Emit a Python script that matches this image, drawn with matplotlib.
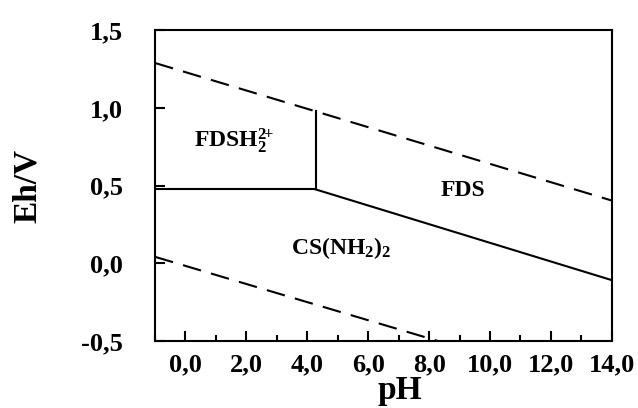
import matplotlib
matplotlib.use('Agg')
import matplotlib.pyplot as plt
from matplotlib.ticker import MultipleLocator, FuncFormatter

plt.rcParams['font.family'] = ['Liberation Serif', 'DejaVu Serif']
plt.rcParams['font.weight'] = 'bold'
plt.rcParams['mathtext.fontset'] = 'custom'
plt.rcParams['mathtext.rm'] = 'Liberation Serif:bold'
plt.rcParams['mathtext.it'] = 'Liberation Serif:bold'
plt.rcParams['mathtext.bf'] = 'Liberation Serif:bold'

# water stability lines (dashed)
upper_ph = [-1.0, 14.0]
upper_eh = [1.289, 0.404]
lower_ph = [-1.0, 8.3]
lower_eh = [0.042, -0.5]

# species boundaries (solid)
horiz_ph = [-1.0, 4.27]
horiz_eh = [0.476, 0.476]
vert_ph = [4.27, 4.27]
vert_eh = [0.476, 0.978]
slope_ph = [4.27, 14.0]
slope_eh = [0.476, -0.108]

# region labels
labels = [r'FDSH$_2^{2\!\!+}$', 'FDS', r'CS(NH$_2$)$_2$']
label_ph = [1.6, 9.1, 5.1]
label_eh = [0.79, 0.47, 0.10]

fig = plt.figure(figsize=(6.38, 4.08), dpi=100)
ax = fig.add_axes([0.243, 0.164, 0.716, 0.762])

ax.plot(upper_ph, upper_eh, 'k', lw=1.5, dashes=(9, 5))
ax.plot(lower_ph, lower_eh, 'k', lw=1.5, dashes=(9, 5))
ax.plot(horiz_ph, horiz_eh, 'k', lw=1.5)
ax.plot(vert_ph, vert_eh, 'k', lw=1.5)
ax.plot(slope_ph, slope_eh, 'k', lw=1.5)

for t, x, y in zip(labels, label_ph, label_eh):
    ax.text(x, y, t, fontsize=17, fontweight='bold', ha='center', va='center')

ax.set_xlim(-1, 14)
ax.set_ylim(-0.5, 1.5)
ax.xaxis.set_major_locator(MultipleLocator(2))
ax.xaxis.set_minor_locator(MultipleLocator(1))
ax.yaxis.set_major_locator(MultipleLocator(0.5))
comma = FuncFormatter(lambda v, p: ('%.1f' % v).replace('.', ','))
ax.xaxis.set_major_formatter(comma)
ax.yaxis.set_major_formatter(comma)
ax.tick_params(direction='in', length=7, width=1.5, labelsize=19)
ax.tick_params(which='minor', direction='in', length=4, width=1.5)
ax.tick_params(axis='x', pad=9)
ax.tick_params(axis='y', pad=23)
for s in ax.spines.values():
    s.set_linewidth(1.5)

ax.set_xlabel('pH', fontsize=24, fontweight='bold')
ax.xaxis.set_label_coords(0.536, -0.108)
ax.set_ylabel('Eh/V', fontsize=24, fontweight='bold')
ax.yaxis.set_label_coords(-0.245, 0.5)

fig.savefig('out.png', dpi=100)
